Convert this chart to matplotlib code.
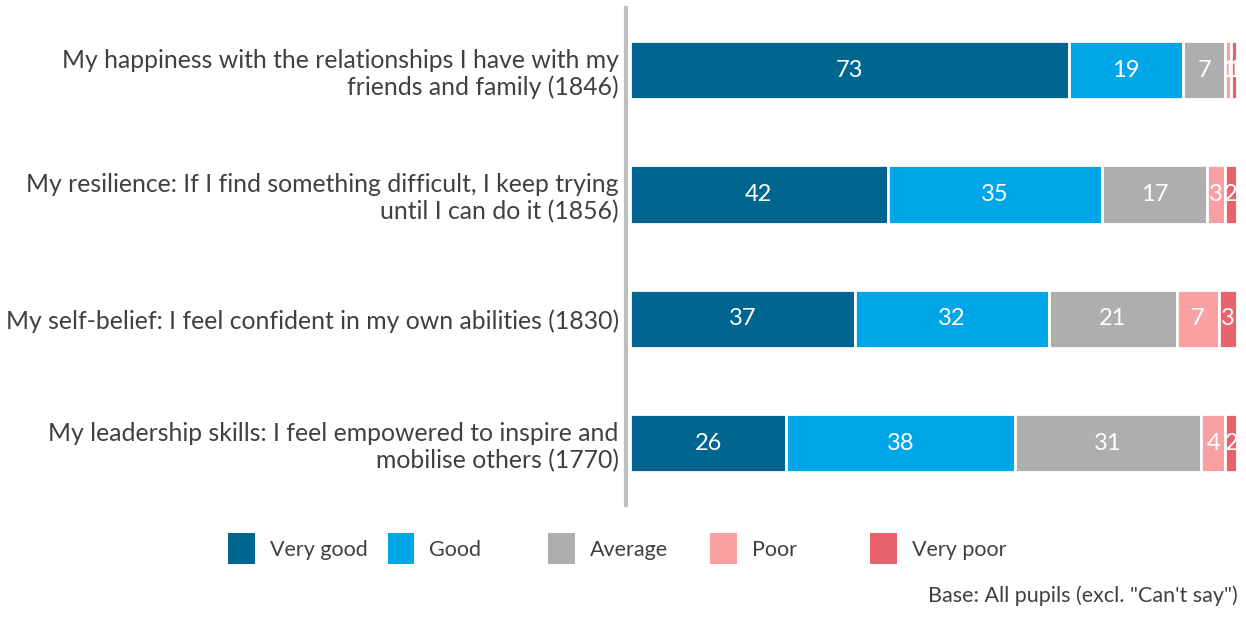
import matplotlib.pyplot as plt
import numpy as np
from matplotlib.patches import Patch

# Data
categories = [
    "My happiness with the relationships I have with my\nfriends and family (1846)",
    "My resilience: If I find something difficult, I keep trying\nuntil I can do it (1856)",
    "My self-belief: I feel confident in my own abilities (1830)",
    "My leadership skills: I feel empowered to inspire and\nmobilise others (1770)",
]
series_names = ["Very good", "Good", "Average", "Poor", "Very poor"]
very_good = [73, 42, 37, 26]
good = [19, 35, 32, 38]
average = [7, 17, 21, 31]
poor = [1, 3, 7, 4]
very_poor = [1, 2, 3, 2]
colors = ["#006690", "#00A7E8", "#AEAEAE", "#F9A0A3", "#E9636E"]

plt.rcParams['font.family'] = ['Lato', 'DejaVu Sans']

fig = plt.figure(figsize=(12.46, 6.2), dpi=100)
ax = fig.add_axes([0.5056, 0.185, 0.4874, 0.802])

series = [very_good, good, average, poor, very_poor]
# 100% stacked: each row scaled to its own total
totals = np.sum(np.array(series, dtype=float), axis=0)
y = np.arange(len(categories))
left = np.zeros(len(categories))
for vals, name, col in zip(series, series_names, colors):
    vals = np.array(vals, dtype=float)
    widths = vals / totals * 100
    bars = ax.barh(y, widths, left=left, height=0.47, color=col,
                   edgecolor="white", linewidth=2, label=name)
    for b, v in zip(bars, vals):
        ax.text(b.get_x() + b.get_width() / 2, b.get_y() + b.get_height() / 2,
                "%d" % v, ha="center", va="center", color="white", fontsize=17)
    left += widths

ax.set_xlim(0, 100)
ax.set_ylim(len(categories) - 0.5, -0.5)
ax.set_yticks(y)
ax.set_yticklabels(categories, multialignment="right", linespacing=1.3)
ax.tick_params(axis="y", length=0, pad=5, labelsize=17.8, labelcolor="#404040")
ax.set_xticks([])
for s in ["top", "right", "bottom"]:
    ax.spines[s].set_visible(False)
ax.spines["left"].set_color("#BFBFBF")
ax.spines["left"].set_linewidth(3)
ax.spines["left"].set_position(("outward", 3))

# Legend items sit in fixed-width columns, as in the original
leg_x = [0.183, 0.311, 0.440, 0.570, 0.698]
for c, n, lx in zip(colors, series_names, leg_x):
    leg = fig.legend(handles=[Patch(facecolor=c, label=n)], loc="center left",
                     bbox_to_anchor=(lx, 0.115), frameon=False, fontsize=15.5,
                     handlelength=1.25, handleheight=1.85, handletextpad=0.7,
                     labelcolor="#404040", borderaxespad=0, borderpad=0)

fig.text(0.993, 0.022, 'Base: All pupils (excl. "Can\'t say")', ha="right", va="bottom",
         fontsize=15.5, color="#404040")

fig.savefig("out.png", dpi=100)
